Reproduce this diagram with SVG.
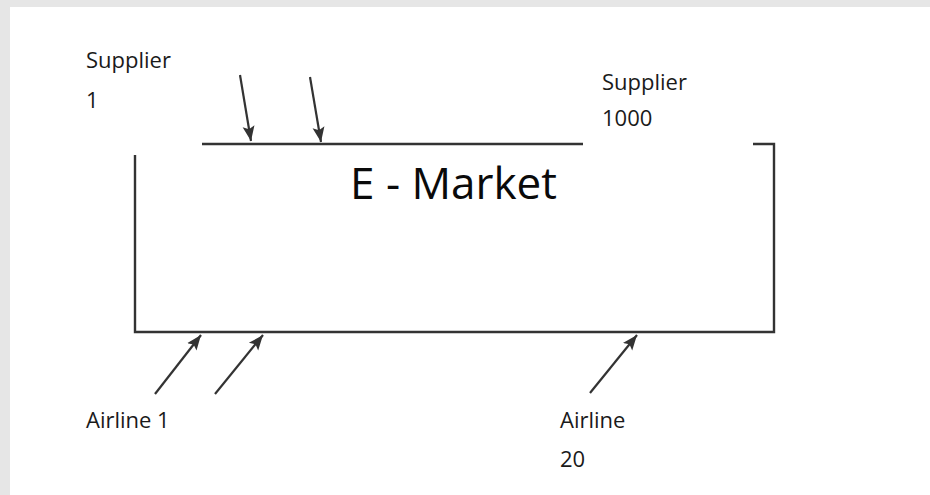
<svg xmlns="http://www.w3.org/2000/svg" width="930" height="495" viewBox="0 0 930 495">
<style>
.ln{stroke:#333;stroke-width:2.4;fill:none}
.ar{stroke:#333;stroke-width:2.2;fill:none;marker-end:url(#ah)}
.lb{font-family:"Open Sans","Liberation Sans",sans-serif;font-size:22px;fill:#1a1a1a}
.tt{font-family:"Open Sans","Liberation Sans",sans-serif;font-size:44px;fill:#0a0a0a}
</style>
<defs>
<marker id="ah" markerUnits="userSpaceOnUse" markerWidth="16" markerHeight="14" refX="15" refY="7" orient="auto">
<path d="M0,1 L15,7 L0,13 L3,7 z" fill="#333"/>
</marker>
</defs>
<rect x="0" y="0" width="930" height="495" fill="#e6e6e6"/>
<rect x="10" y="7" width="920" height="488" fill="#ffffff"/>
<g id="emarket">
<path class="ln" d="M135,155 L135,332 L774,332 L774,144 L753,144"/>
<path class="ln" d="M202,144 L583,144"/>
<text class="tt" x="350" y="199">E - Market</text>
</g>
<g id="supplier1">
<text class="lb" x="86" y="68">Supplier</text>
<text class="lb" x="86" y="108">1</text>
</g>
<g id="supplier1000">
<text class="lb" x="602" y="90">Supplier</text>
<text class="lb" x="602" y="126">1000</text>
</g>
<g id="airline1">
<text class="lb" x="86" y="428">Airline 1</text>
</g>
<g id="airline20">
<text class="lb" x="560" y="428">Airline</text>
<text class="lb" x="560" y="467">20</text>
</g>
<g id="connectors">
<line class="ar" x1="240" y1="75" x2="251" y2="141"/>
<line class="ar" x1="310" y1="77" x2="321" y2="142"/>
<line class="ar" x1="155" y1="394" x2="201" y2="335"/>
<line class="ar" x1="215" y1="394" x2="263" y2="335"/>
<line class="ar" x1="590" y1="393" x2="637" y2="335"/>
</g>
</svg>
